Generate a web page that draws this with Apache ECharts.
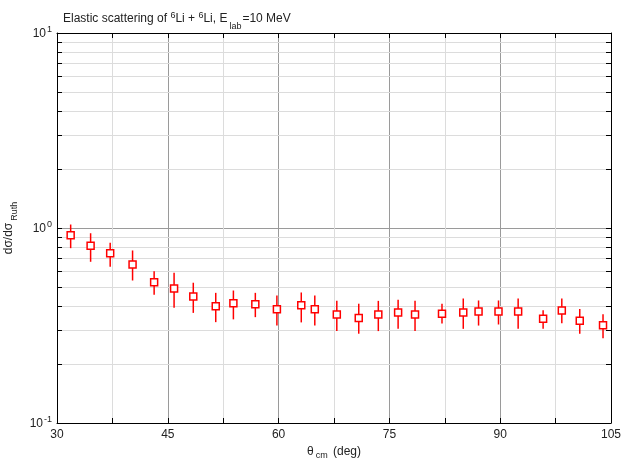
<!DOCTYPE html>
<html>
<head>
<meta charset="utf-8">
<script src="https://cdn.jsdelivr.net/npm/echarts@6/dist/echarts.min.js"></script>
<style>html,body{margin:0;padding:0;background:#fff}#c{width:623px;height:464px}</style>
</head>
<body>
<div id="c"></div>
<script>
// Data
var thetaCm = [31.85, 34.55, 37.2, 40.23, 43.15, 45.85, 48.45, 51.49, 53.88, 56.85, 59.77, 63.07, 64.9, 67.88, 70.85, 73.5, 76.18, 78.47, 82.12, 85.0, 87.07, 89.77, 92.43, 95.81, 98.34, 100.77, 103.92];
var ratio   = [0.918, 0.810, 0.743, 0.650, 0.527, 0.490, 0.445, 0.397, 0.411, 0.407, 0.383, 0.402, 0.383, 0.360, 0.346, 0.360, 0.369, 0.360, 0.363, 0.369, 0.373, 0.373, 0.373, 0.342, 0.378, 0.334, 0.317];
var errHigh = [1.042, 0.940, 0.839, 0.767, 0.600, 0.589, 0.524, 0.465, 0.478, 0.465, 0.451, 0.467, 0.451, 0.423, 0.409, 0.423, 0.428, 0.423, 0.409, 0.435, 0.425, 0.425, 0.435, 0.379, 0.435, 0.384, 0.361];
var errLow  = [0.788, 0.671, 0.633, 0.538, 0.454, 0.390, 0.367, 0.329, 0.340, 0.349, 0.316, 0.328, 0.316, 0.296, 0.287, 0.296, 0.304, 0.296, 0.324, 0.304, 0.316, 0.320, 0.304, 0.304, 0.325, 0.287, 0.272];
var minorYTicks = [0.2, 0.3, 0.4, 0.5, 0.6, 0.7, 0.8, 0.9, 2, 3, 4, 5, 6, 7, 8, 9];
var xMin = 30, xMax = 105, xStep = 15;
var yMin = 0.1, yMax = 10;

var chart = echarts.init(document.getElementById('c'), null, {renderer: 'canvas'});
var FONT = 'Liberation Sans, Arial, sans-serif';
var supLabel = function (v) {
  var e = Math.round(Math.log10(v));
  return '{b|10}{s|' + e + '}';
};
var labelRich = {
  b: {fontSize: 12, fontFamily: FONT, color: '#222', verticalAlign: 'bottom', lineHeight: 14},
  s: {fontSize: 9, fontFamily: FONT, color: '#222', verticalAlign: 'bottom', lineHeight: 14, padding: [0, 0, 6, 1]}
};

var errData = thetaCm.map(function (x, i) { return [x, errLow[i], errHigh[i]]; });
var ptData = thetaCm.map(function (x, i) { return [x, ratio[i]]; });

var option = {
  animation: false,
  backgroundColor: '#fff',
  title: {
    text: 'Elastic scattering of {s|6}Li + {s|6}Li, E{u|lab}=10 MeV',
    left: 58, top: 6,
    textStyle: {
      fontSize: 12, fontWeight: 'normal', fontFamily: FONT, color: '#222',
      rich: {
        s: {fontSize: 9, fontFamily: FONT, color: '#222', verticalAlign: 'bottom', padding: [0, 0, 6, 0]},
        u: {fontSize: 9, fontFamily: FONT, color: '#222', verticalAlign: 'bottom', padding: [0, 1, -5, 2]}
      }
    }
  },
  grid: {left: 57, right: 12, top: 33, bottom: 41, containLabel: false, outerBoundsMode: 'none'},
  xAxis: [{
    type: 'value', min: xMin, max: xMax, interval: xStep,
    name: 'θ{u|cm} (deg)', nameLocation: 'middle', nameGap: 22,
    nameTextStyle: {fontSize: 12, fontFamily: FONT, color: '#222',
      rich: {u: {fontSize: 9, fontFamily: FONT, color: '#222', padding: [0, 2, -8, 2]}}},
    axisLine: {show: true, lineStyle: {color: '#000', width: 1}},
    axisTick: {show: true, inside: true, length: 5, lineStyle: {color: '#000'}},
    minorTick: {show: true, splitNumber: 2, length: 5, lineStyle: {color: '#000'}},
    axisLabel: {fontSize: 12, fontFamily: FONT, color: '#222', margin: 6},
    splitLine: {show: true, lineStyle: {color: '#9a9a9a', width: 1}},
    minorSplitLine: {show: true, lineStyle: {color: '#dcdcdc', width: 1}}
  }, {
    type: 'value', min: xMin, max: xMax, interval: xStep, position: 'top',
    axisLine: {show: true, onZero: false, lineStyle: {color: '#000', width: 1}},
    axisTick: {show: true, inside: true, length: 5, lineStyle: {color: '#000'}},
    minorTick: {show: true, splitNumber: 2, length: 5, lineStyle: {color: '#000'}},
    axisLabel: {show: false}, splitLine: {show: false}
  }],
  yAxis: [{
    type: 'log', logBase: 10, min: yMin, max: yMax,
    name: 'dσ/dσ{u|Ruth}', nameLocation: 'middle', nameGap: 33, nameRotate: 90,
    nameTextStyle: {fontSize: 12, fontFamily: FONT, color: '#222',
      rich: {u: {fontSize: 9, fontFamily: FONT, color: '#222', padding: [0, 0, -11, 2]}}},
    axisLine: {show: true, lineStyle: {color: '#000', width: 1}},
    axisTick: {show: true, inside: true, length: 5, lineStyle: {color: '#000'}},
    axisLabel: {formatter: supLabel, rich: labelRich, margin: 5},
    splitLine: {show: true, lineStyle: {color: '#9a9a9a', width: 1}}
  }, {
    type: 'log', logBase: 10, min: yMin, max: yMax, position: 'right',
    axisLine: {show: true, onZero: false, lineStyle: {color: '#000', width: 1}},
    axisTick: {show: true, inside: true, length: 5, lineStyle: {color: '#000'}},
    axisLabel: {show: false}, splitLine: {show: false}
  }],
  series: [{
    type: 'custom', name: 'minorGrid', silent: true, z: 1,
    data: minorYTicks.map(function (v) { return [xMin, v]; }),
    encode: {x: 0, y: 1},
    renderItem: function (params, api) {
      var cs = params.coordSys;
      var y = Math.round(api.coord([xMin, api.value(1)])[1]) + 0.5;
      return {type: 'group', children: [
        {type: 'line', shape: {x1: cs.x, y1: y, x2: cs.x + cs.width, y2: y}, style: {stroke: '#dcdcdc', lineWidth: 1}},
        {type: 'line', shape: {x1: cs.x, y1: y, x2: cs.x + 5, y2: y}, style: {stroke: '#000', lineWidth: 1}},
        {type: 'line', shape: {x1: cs.x + cs.width - 5, y1: y, x2: cs.x + cs.width, y2: y}, style: {stroke: '#000', lineWidth: 1}}
      ]};
    }
  }, {
    type: 'custom', name: 'err', z: 3,
    data: errData,
    encode: {x: 0, y: [1, 2]},
    renderItem: function (params, api) {
      var p1 = api.coord([api.value(0), api.value(1)]);
      var p2 = api.coord([api.value(0), api.value(2)]);
      return {type: 'line', shape: {x1: p1[0], y1: p1[1], x2: p2[0], y2: p2[1]}, style: {stroke: '#ff0000', lineWidth: 1.5}};
    }
  }, {
    type: 'scatter', name: 'data', z: 4,
    data: ptData,
    symbol: 'rect', symbolSize: 7,
    itemStyle: {color: '#fff', borderColor: '#ff0000', borderWidth: 1.5, opacity: 1}
  }]
};
chart.setOption(option);
</script>
</body>
</html>
